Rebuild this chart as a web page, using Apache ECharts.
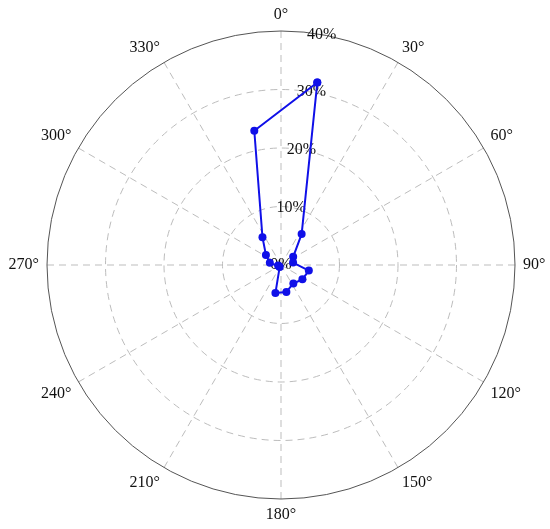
<!DOCTYPE html>
<html>
<head>
<meta charset="utf-8">
<script src="https://cdn.jsdelivr.net/npm/echarts@6/dist/echarts.min.js"></script>
<style>
html,body{margin:0;padding:0;background:#fff;}
#chart{width:550px;height:529px;}
</style>
</head>
<body>
<div id="chart"></div>
<script>
// Direction bin centres (degrees, clockwise from north)
const angles = [11.25, 33.75, 56.25, 78.75, 101.25, 123.75, 146.25, 168.75,
                191.25, 213.75, 236.25, 258.75, 281.25, 303.75, 326.25, 348.75];
// Frequency (%) for each direction
const values = [31.8, 6.35, 2.5, 2.1, 4.85, 4.4, 3.8, 4.7,
                4.9, 0.4, 0.4, 0.5, 1.95, 3.1, 5.7, 23.4];
const angleTicks = [0, 30, 60, 90, 120, 150, 180, 210, 240, 270, 300, 330];
const radiusTicks = [0, 10, 20, 30, 40];

const pts = angles.map((a, i) => [values[i], a]);
pts.push([values[0], angles[0]]);

const font = 'Liberation Serif';
const gridColor = '#bdbdbd';

const chart = echarts.init(document.getElementById('chart'), null, {renderer: 'canvas'});
chart.setOption({
  animation: false,
  backgroundColor: '#fff',
  polar: [
    {center: [281, 265], radius: 234},
    {center: [281, 265], radius: 234}
  ],
  angleAxis: [
    {
      polarIndex: 0, type: 'value', min: 0, max: 360, interval: 30,
      startAngle: 90, clockwise: true,
      axisLine: {show: true, lineStyle: {color: '#555', width: 1}},
      axisTick: {show: false},
      axisLabel: {
        show: true, margin: 8, color: '#111', fontFamily: font, fontSize: 16,
        formatter: v => (angleTicks.indexOf(v) >= 0 ? v + '°' : '')
      },
      splitLine: {show: true, lineStyle: {color: gridColor, width: 1, type: [7, 5]}}
    },
    {
      polarIndex: 1, type: 'value', min: 0, max: 360, startAngle: 80, clockwise: true,
      axisLine: {show: false}, axisTick: {show: false}, axisLabel: {show: false},
      splitLine: {show: false}
    }
  ],
  radiusAxis: [
    {
      polarIndex: 0, type: 'value', min: 0, max: 40, interval: 10,
      axisLine: {show: false}, axisTick: {show: false}, axisLabel: {show: false},
      splitLine: {show: true, lineStyle: {color: ['rgba(0,0,0,0)', gridColor, gridColor, gridColor, 'rgba(0,0,0,0)'], width: 1, type: [7, 5]}}
    },
    {
      polarIndex: 1, type: 'value', min: 0, max: 40, interval: 10,
      axisLine: {show: false}, axisTick: {show: false},
      axisLabel: {
        show: true, margin: 0, align: 'center', verticalAlign: 'middle',
        color: '#111', fontFamily: font, fontSize: 16,
        formatter: v => (radiusTicks.indexOf(v) >= 0 ? v + '%' : '')
      },
      splitLine: {show: false}
    }
  ],
  series: [{
    type: 'line',
    coordinateSystem: 'polar',
    polarIndex: 0,
    data: pts,
    symbol: 'circle',
    symbolSize: 8,
    lineStyle: {color: '#1010e8', width: 2},
    itemStyle: {color: '#1010e8'},
    z: 1
  }]
});
</script>
</body>
</html>
